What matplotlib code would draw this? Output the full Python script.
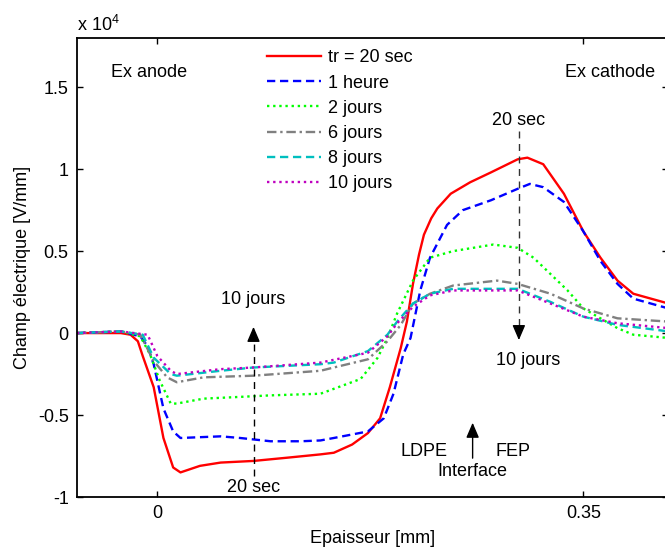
import matplotlib
matplotlib.use('Agg')
import matplotlib.pyplot as plt

plt.rcParams['font.family'] = ['Liberation Sans', 'DejaVu Sans']
plt.rcParams['font.size'] = 13
plt.rcParams['axes.unicode_minus'] = False
plt.rcParams['mathtext.fontset'] = 'custom'
plt.rcParams['mathtext.rm'] = 'Liberation Sans'

# epaisseur [mm] and champ [x 1e4 V/mm]
x_20s = [-0.066, -0.030, -0.022, -0.016, -0.012, -0.003, 0.005, 0.013, 0.019, 0.035, 0.052, 0.079,
         0.107, 0.134, 0.145, 0.160, 0.173, 0.183, 0.191, 0.200, 0.205, 0.210, 0.215, 0.219, 0.225,
         0.230, 0.241, 0.257, 0.274, 0.296, 0.304, 0.317, 0.334, 0.350, 0.364, 0.378, 0.391, 0.420]
y_20s = [0.0, 0.0, -0.01, -0.05, -0.14, -0.33, -0.64, -0.82, -0.85, -0.81, -0.79, -0.78,
         -0.76, -0.74, -0.73, -0.68, -0.61, -0.52, -0.33, -0.09, 0.07, 0.30, 0.48, 0.60, 0.70,
         0.76, 0.85, 0.92, 0.98, 1.06, 1.07, 1.03, 0.85, 0.62, 0.46, 0.32, 0.24, 0.18]

x_1h = [-0.066, -0.030, -0.014, -0.008, -0.003, 0.005, 0.013, 0.019, 0.052, 0.068, 0.093, 0.118,
        0.134, 0.145, 0.173, 0.186, 0.194, 0.202, 0.208, 0.216, 0.224, 0.238, 0.251, 0.274, 0.296,
        0.306, 0.317, 0.334, 0.350, 0.364, 0.378, 0.391, 0.420]
y_1h = [0.0, 0.01, -0.02, -0.08, -0.19, -0.46, -0.60, -0.64, -0.63, -0.64, -0.66, -0.66,
        -0.655, -0.64, -0.60, -0.52, -0.37, -0.13, -0.03, 0.26, 0.46, 0.66, 0.75, 0.81, 0.88,
        0.91, 0.89, 0.80, 0.62, 0.44, 0.30, 0.21, 0.15]

x_2j = [-0.066, -0.030, -0.014, -0.006, 0.002, 0.011, 0.016, 0.038, 0.066, 0.093, 0.134, 0.145,
        0.167, 0.181, 0.189, 0.197, 0.210, 0.224, 0.243, 0.276, 0.296, 0.309, 0.323, 0.337, 0.350,
        0.364, 0.378, 0.391, 0.420]
y_2j = [0.0, 0.01, -0.02, -0.13, -0.29, -0.43, -0.43, -0.40, -0.39, -0.38, -0.37, -0.34,
        -0.28, -0.15, -0.03, 0.12, 0.32, 0.46, 0.50, 0.54, 0.52, 0.46, 0.36, 0.26, 0.15,
        0.09, 0.03, -0.01, -0.03]

x_6j = [-0.066, -0.030, -0.014, -0.003, 0.008, 0.016, 0.038, 0.079, 0.134, 0.145, 0.173, 0.189,
        0.200, 0.210, 0.224, 0.243, 0.279, 0.296, 0.323, 0.350, 0.378, 0.420]
y_6j = [0.0, 0.01, -0.01, -0.17, -0.27, -0.30, -0.27, -0.26, -0.23, -0.21, -0.16, -0.05,
        0.05, 0.18, 0.24, 0.29, 0.32, 0.30, 0.24, 0.15, 0.09, 0.07]

x_8j = [-0.066, -0.030, -0.012, -0.003, 0.011, 0.016, 0.052, 0.079, 0.134, 0.145, 0.173, 0.189,
        0.197, 0.210, 0.224, 0.243, 0.279, 0.296, 0.323, 0.350, 0.378, 0.420]
y_8j = [0.0, 0.01, -0.01, -0.15, -0.25, -0.26, -0.23, -0.21, -0.19, -0.18, -0.11, -0.01,
        0.07, 0.18, 0.24, 0.27, 0.27, 0.27, 0.19, 0.10, 0.05, 0.01]

x_10j = [-0.066, -0.030, -0.008, 0.000, 0.011, 0.016, 0.052, 0.079, 0.134, 0.173, 0.189, 0.197,
         0.210, 0.224, 0.243, 0.279, 0.296, 0.323, 0.350, 0.378, 0.420]
y_10j = [0.0, 0.01, -0.01, -0.14, -0.23, -0.25, -0.22, -0.21, -0.18, -0.12, -0.02, 0.06,
         0.16, 0.23, 0.26, 0.26, 0.26, 0.18, 0.10, 0.06, 0.03]

labels = ['tr = 20 sec', '1 heure', '2 jours', '6 jours', '8 jours', '10 jours']

fig = plt.figure(figsize=(6.65, 5.49), dpi=100)
ax = fig.add_axes([77 / 665, 52 / 549, 591 / 665, 459 / 549])

lw = 1.7
ax.plot(x_20s, y_20s, color='r', lw=lw, ls='-', label=labels[0])
ax.plot(x_1h, y_1h, color='b', lw=lw, ls=(0, (3.5, 2)), label=labels[1])
ax.plot(x_2j, y_2j, color='#00ff00', lw=lw, ls=(0, (1, 1.6)), label=labels[2])
ax.plot(x_6j, y_6j, color='#808080', lw=lw, ls=(0, (4, 1.6, 1, 1.6)), label=labels[3])
ax.plot(x_8j, y_8j, color='#00bfbf', lw=lw, ls=(0, (3.5, 2)), label=labels[4])
ax.plot(x_10j, y_10j, color='#bf00bf', lw=lw, ls=(0, (1, 1.6)), label=labels[5])

# evolution arrows
head = dict(arrowstyle='-|>,head_length=0.7,head_width=0.3', color='k', lw=1)
ax.plot([0.079, 0.079], [-0.87, -0.05], color='k', lw=1, ls=(0, (5, 4)))
ax.annotate('', xy=(0.079, 0.055), xytext=(0.079, -0.05), arrowprops=head)
ax.plot([0.297, 0.297], [1.23, 0.04], color='#333333', lw=1, ls=(0, (5, 4)))
ax.annotate('', xy=(0.297, -0.06), xytext=(0.297, 0.04), arrowprops=head)
ax.annotate('', xy=(0.259, -0.53), xytext=(0.259, -0.78), arrowprops=head)

ax.text(-0.007, 1.59, 'Ex anode', ha='center', va='center')
ax.text(0.372, 1.59, 'Ex cathode', ha='center', va='center')
ax.text(0.079, 0.207, '10 jours', ha='center', va='center')
ax.text(0.079, -0.94, '20 sec', ha='center', va='center')
ax.text(0.297, 1.295, '20 sec', ha='center', va='center')
ax.text(0.305, -0.17, '10 jours', ha='center', va='center')
ax.text(0.219, -0.72, 'LDPE', ha='center', va='center')
ax.text(0.292, -0.72, 'FEP', ha='center', va='center')
ax.text(0.259, -0.845, 'Interface', ha='center', va='center')

ax.set_xlim(-0.066, 0.4195)
ax.set_ylim(-1, 1.8)
ax.set_xticks([0, 0.35])
ax.set_xticklabels(['0', '0.35'])
ax.set_yticks([-1, -0.5, 0, 0.5, 1, 1.5])
ax.set_yticklabels(['-1', '-0.5', '0', '0.5', '1', '1.5'])
ax.tick_params(direction='in', top=True, right=True, length=4, width=1, pad=6)
for s in ax.spines.values():
    s.set_linewidth(1.3)

ax.text(0.0, 1.015, r'x 10$^{4}$', transform=ax.transAxes, ha='left', va='baseline')
ax.set_xlabel('Epaisseur [mm]')
ax.set_ylabel('Champ électrique [V/mm]')
ax.xaxis.set_label_coords(0.5, -0.072)
ax.yaxis.set_label_coords(-0.078, 0.5)

ax.legend(loc='upper left', bbox_to_anchor=(0.322, 0.975), frameon=False,
          handlelength=3.0, handletextpad=0.35, labelspacing=0.45, borderpad=0, borderaxespad=0)

fig.savefig('out.png', dpi=100)
